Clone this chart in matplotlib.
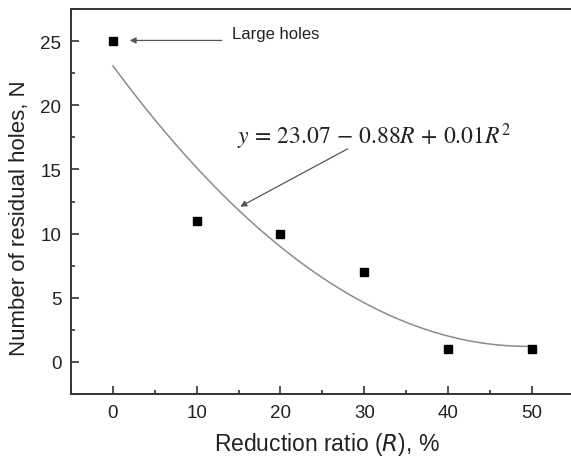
import numpy as np
from matplotlib import pyplot as plt

plt.rcParams['font.family'] = ['Liberation Sans', 'DejaVu Sans']
plt.rcParams['mathtext.fontset'] = 'stix'

# reduction ratio R (%) and residual hole count N
ratio = [0, 10, 20, 30, 40, 50]
holes = [25, 11, 10, 7, 1, 1]

x_ticks = [0, 10, 20, 30, 40, 50]
y_ticks = [0, 5, 10, 15, 20, 25]

# second order polynomial fit through the points
c2, c1, c0 = np.polyfit(ratio, holes, 2)
r_fit = np.linspace(0, 50, 200)
n_fit = np.polyval([c2, c1, c0], r_fit)

fig = plt.figure(figsize=(5.71, 4.60), dpi=100)
ax = fig.add_axes([71 / 571, 65 / 460, 512 / 571, 385 / 460])

ax.plot(r_fit, n_fit, color='#8c8c8c', lw=1.1)
ax.plot(ratio, holes, 's', color='black', ms=6, ls='none')

ax.set_xlim(-5, 56.1)
ax.set_ylim(-2.5, 27.5)
ax.set_xticks(x_ticks)
ax.set_yticks(y_ticks)
ax.set_xticks(np.arange(-5, 56, 5), minor=True)
ax.set_yticks(np.arange(-2.5, 27.6, 2.5), minor=True)
ax.tick_params(which='both', direction='in', colors='#333333', labelsize=13.5,
               labelcolor='#222222', width=1.2)
ax.tick_params(which='major', length=6, pad=7)
ax.tick_params(which='minor', length=3)
for s in ax.spines.values():
    s.set_linewidth(1.4)
    s.set_color('#333333')

ax.set_xlabel('Reduction ratio ($\\mathit{R}$), %', fontsize=16.5, color='#222222', labelpad=7)
ax.set_ylabel('Number of residual holes, N', fontsize=16, color='#222222')
ax.yaxis.set_label_coords(-0.08, 0.46)
ax.xaxis.label.set_math_fontfamily('dejavusans')

# label for the first point
ax.text(14.2, 25.6, 'Large holes', fontsize=12, va='center', color='#222222')
ax.annotate('', xy=(2.0, 25.05), xytext=(13.0, 25.05),
            arrowprops=dict(arrowstyle='-|>', color='#555555', lw=0.9,
                            shrinkA=0, shrinkB=0, mutation_scale=9))

eq = '$y\\,=\\,%.2f\\,-\\,%.2fR\\,+\\,%.2fR^2$' % (c0, -c1, c2)
ax.text(14.8, 17.6, eq, fontsize=17, color='#222222', va='center')
ax.annotate('', xy=(15.2, 12.1), xytext=(28.0, 16.6),
            arrowprops=dict(arrowstyle='-|>', color='#555555', lw=0.9,
                            shrinkA=0, shrinkB=0, mutation_scale=9))

fig.savefig('out.png', dpi=100)
